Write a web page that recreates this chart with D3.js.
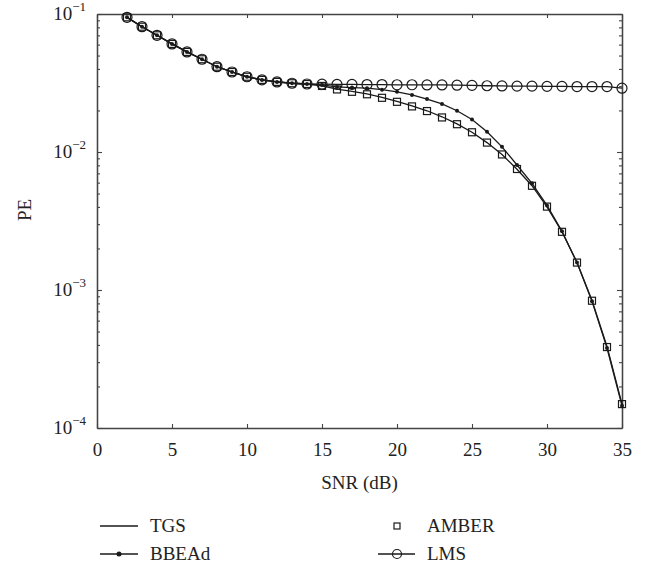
<!DOCTYPE html>
<html>
<head>
<meta charset="utf-8">
<script src="https://cdn.jsdelivr.net/npm/d3@7"></script>
<style>
  body { margin: 0; background: #fff; }
  svg text { font-family: "Liberation Serif", "DejaVu Serif", serif; fill: #222; }
</style>
</head>
<body>
<div id="chart"></div>
<script>
var width = 659;
var height = 571;

// SNR values (dB)
var snr = [2,3,4,5,6,7,8,9,10,11,12,13,14,15,16,17,18,19,20,21,22,23,24,25,26,27,28,29,30,31,32,33,34,35];

var tgs = [0.0946,0.0809,0.0701,0.0607,0.0531,0.0470,0.0415,0.0380,0.0351,0.0333,0.0322,0.0315,0.0311,
  0.0302,0.0286,0.0275,0.0264,0.0249,0.0233,0.0216,0.0199,0.0180,0.0160,0.0139,0.0117,0.0096,0.0075,0.0057,
  0.0040,0.00264,0.00158,0.00084,0.00039,0.000149];

var bbead = [0.0946,0.0809,0.0701,0.0607,0.0531,0.0470,0.0415,0.0380,0.0351,0.0333,0.0322,0.0315,0.0311,
  0.0306,0.0296,0.0293,0.0290,0.0283,0.0273,0.0259,0.0242,0.0223,0.0199,0.0172,0.0140,0.0109,0.00805,0.00593,
  0.0041,0.00266,0.00158,0.00083,0.00038,0.000145];

var amber = [0.0946,0.0809,0.0701,0.0607,0.0531,0.0470,0.0415,0.0380,0.0351,0.0333,0.0322,0.0315,0.0311,
  0.0301,0.0284,0.0273,0.0262,0.0247,0.0231,0.0214,0.0198,0.0178,0.0159,0.0139,0.0117,0.0096,0.00753,0.00569,
  0.00402,0.00264,0.00158,0.000836,0.000386,0.000149];

var lms = [0.0946,0.0809,0.0701,0.0607,0.0531,0.0470,0.0415,0.0380,0.0351,0.0333,0.0322,0.0315,0.0311,
  0.0310,0.0309,0.0309,0.0308,0.0308,0.0307,0.0307,0.0306,0.0306,0.0305,0.0304,0.0302,0.0301,0.0300,0.0300,
  0.0299,0.0299,0.0298,0.0298,0.0298,0.0290];

var xTicks = [0,5,10,15,20,25,30,35];
var yTicks = [1e-1,1e-2,1e-3,1e-4];
var yExponents = ["\u22121","\u22122","\u22123","\u22124"];

var plotLeft = 97, plotRight = 622, plotTop = 14, plotBottom = 428;

var svg = d3.select("#chart")
    .append("svg")
    .attr("width", width)
    .attr("height", height);

var x = d3.scaleLinear().domain([0, 35]).range([plotLeft, plotRight]);
var y = d3.scaleLog().domain([1e-4, 1e-1]).range([plotBottom, plotTop]);

// minor log ticks
var minor = [];
[1e-4, 1e-3, 1e-2].forEach(function(d){
  for (var k = 2; k <= 9; k++) minor.push(d * k);
});

var axisColor = "#444";

function styleAxis(g){
  g.selectAll("path").attr("stroke", axisColor).attr("stroke-width", 1.3);
  g.selectAll("line").attr("stroke", axisColor).attr("stroke-width", 1.1);
}

// bottom
svg.append("g")
    .attr("transform", "translate(0," + plotBottom + ")")
    .call(d3.axisBottom(x).tickValues(xTicks).tickSizeInner(-4).tickSizeOuter(0).tickPadding(15))
    .call(styleAxis)
    .selectAll("text")
    .attr("font-size", 19)
    .attr("fill", "#222");

// top
svg.append("g")
    .attr("transform", "translate(0," + plotTop + ")")
    .call(d3.axisTop(x).tickValues(xTicks).tickSizeInner(-4).tickSizeOuter(0).tickFormat(""))
    .call(styleAxis);

// left
svg.append("g")
    .attr("transform", "translate(" + plotLeft + ",0)")
    .call(d3.axisLeft(y).tickValues(yTicks).tickSizeInner(-5).tickSizeOuter(0).tickFormat(""))
    .call(styleAxis);
svg.append("g")
    .attr("transform", "translate(" + plotLeft + ",0)")
    .call(d3.axisLeft(y).tickValues(minor).tickSizeInner(-3).tickSizeOuter(0).tickFormat(""))
    .call(styleAxis);

// right
svg.append("g")
    .attr("transform", "translate(" + plotRight + ",0)")
    .call(d3.axisRight(y).tickValues(yTicks).tickSizeInner(-5).tickSizeOuter(0).tickFormat(""))
    .call(styleAxis);
svg.append("g")
    .attr("transform", "translate(" + plotRight + ",0)")
    .call(d3.axisRight(y).tickValues(minor).tickSizeInner(-3).tickSizeOuter(0).tickFormat(""))
    .call(styleAxis);

// y tick labels 10^-n
var ylab = svg.append("g").selectAll("text")
    .data(yTicks)
    .enter()
    .append("text")
    .attr("x", 86)
    .attr("y", function(d){ return y(d) + 6; })
    .attr("text-anchor", "end")
    .attr("font-size", 19);
ylab.append("tspan").text("10");
ylab.append("tspan")
    .attr("dy", -9)
    .attr("font-size", 13)
    .text(function(d, i){ return yExponents[i]; });

// axis titles
svg.append("text")
    .attr("x", (plotLeft + plotRight) / 2)
    .attr("y", 489)
    .attr("text-anchor", "middle")
    .attr("font-size", 19)
    .text("SNR (dB)");

svg.append("text")
    .attr("transform", "translate(31,210) rotate(-90)")
    .attr("text-anchor", "middle")
    .attr("font-size", 19)
    .text("PE");

var lineColor = "#1a1a1a";

function pts(vals){
  return snr.map(function(s, i){ return [s, vals[i]]; });
}

var line = d3.line()
    .x(function(d){ return x(d[0]); })
    .y(function(d){ return y(d[1]); });

var plot = svg.append("g");

[tgs, bbead, lms].forEach(function(vals){
  plot.append("path")
      .datum(pts(vals))
      .attr("fill", "none")
      .attr("stroke", lineColor)
      .attr("stroke-width", 1.3)
      .attr("d", line);
});

// AMBER squares
plot.selectAll("rect.amber")
    .data(pts(amber))
    .enter()
    .append("rect")
    .attr("class", "amber")
    .attr("x", function(d){ return x(d[0]) - 3.5; })
    .attr("y", function(d){ return y(d[1]) - 3.5; })
    .attr("width", 7)
    .attr("height", 7)
    .attr("fill", "none")
    .attr("stroke", lineColor)
    .attr("stroke-width", 1.2);

// BBEAd dots
plot.selectAll("circle.bbead")
    .data(pts(bbead))
    .enter()
    .append("circle")
    .attr("class", "bbead")
    .attr("cx", function(d){ return x(d[0]); })
    .attr("cy", function(d){ return y(d[1]); })
    .attr("r", 2)
    .attr("fill", lineColor);

// LMS circles
plot.selectAll("circle.lms")
    .data(pts(lms))
    .enter()
    .append("circle")
    .attr("class", "lms")
    .attr("cx", function(d){ return x(d[0]); })
    .attr("cy", function(d){ return y(d[1]); })
    .attr("r", 5)
    .attr("fill", "none")
    .attr("stroke", lineColor)
    .attr("stroke-width", 1.2);

// legend
var legend = svg.append("g");

legend.append("line")
    .attr("x1", 100).attr("x2", 138).attr("y1", 526).attr("y2", 526)
    .attr("stroke", lineColor).attr("stroke-width", 1.3);
legend.append("text").attr("x", 150).attr("y", 532).attr("font-size", 19).text("TGS");

legend.append("line")
    .attr("x1", 100).attr("x2", 138).attr("y1", 554).attr("y2", 554)
    .attr("stroke", lineColor).attr("stroke-width", 1.3);
legend.append("circle")
    .attr("cx", 119).attr("cy", 554).attr("r", 2.5).attr("fill", lineColor);
legend.append("text").attr("x", 150).attr("y", 560).attr("font-size", 19).text("BBEAd");

legend.append("rect")
    .attr("x", 394).attr("y", 523).attr("width", 6).attr("height", 6)
    .attr("fill", "none").attr("stroke", lineColor).attr("stroke-width", 1.2);
legend.append("text").attr("x", 427).attr("y", 532).attr("font-size", 19).text("AMBER");

legend.append("line")
    .attr("x1", 378).attr("x2", 415).attr("y1", 554).attr("y2", 554)
    .attr("stroke", lineColor).attr("stroke-width", 1.3);
legend.append("circle")
    .attr("cx", 397).attr("cy", 554).attr("r", 4.5)
    .attr("fill", "none").attr("stroke", lineColor).attr("stroke-width", 1.2);
legend.append("text").attr("x", 427).attr("y", 560).attr("font-size", 19).text("LMS");
</script>
</body>
</html>
